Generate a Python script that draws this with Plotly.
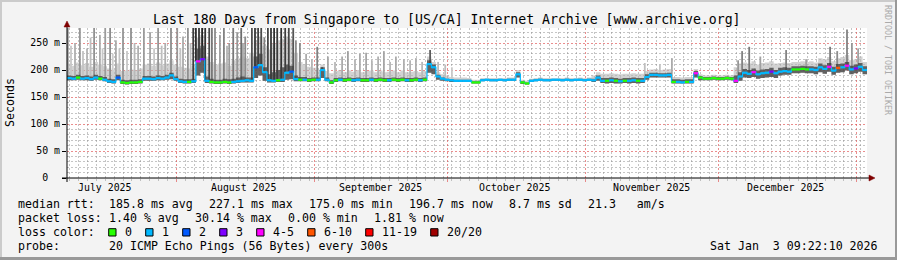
import plotly.graph_objects as go
from datetime import datetime, timedelta

# ---------------- data ----------------
END = datetime(2026, 1, 3, 9, 22, 10)
START = END - timedelta(days=180)

median_ms = [
    185, 184, 186, 184, 185, 183, 186, 184, 182, 179,
    178, 186, 177, 176, 177, 177, 178, 184, 184, 183,
    185, 184, 186, 190, 183, 179, 178, 178, 179, 216,
    220, 180, 178, 177, 177, 178, 177, 178, 179, 180,
    181, 180, 205, 209, 196, 181, 180, 181, 182, 195,
    197, 183, 182, 182, 181, 182, 182, 200, 182, 177,
    181, 182, 181, 182, 181, 182, 181, 181, 182, 181,
    182, 181, 181, 182, 181, 182, 181, 181, 182, 181,
    182, 211, 205, 188, 184, 182, 181, 180, 180, 180,
    180, 177, 177, 181, 182, 181, 181, 182, 181, 182,
    182, 192, 177, 175, 180, 181, 182, 181, 181, 182,
    182, 181, 182, 181, 182, 182, 181, 182, 181, 186,
    180, 180, 181, 180, 179, 180, 180, 181, 180, 180,
    187, 191, 191, 190, 190, 191, 178, 178, 177, 178,
    178, 194, 186, 184, 184, 185, 184, 184, 185, 184,
    180, 188, 195, 193, 196, 192, 194, 195, 197, 194,
    197, 198, 197, 201, 201, 202, 201, 201, 200, 205,
    202, 206, 199, 204, 205, 208, 201, 203, 206, 200,
]

loss_cnt = [
    1, 1, 0, 1, 1, 1, 1, 0, 1, 1,
    1, 2, 0, 0, 0, 0, 0, 1, 1, 1,
    1, 1, 1, 1, 1, 1, 1, 0, 1, 5,
    3, 1, 0, 0, 0, 0, 0, 1, 1, 1,
    1, 1, 2, 1, 1, 1, 1, 0, 1, 1,
    2, 1, 0, 1, 0, 0, 1, 1, 1, 0,
    0, 1, 0, 0, 1, 1, 0, 0, 1, 0,
    0, 0, 1, 0, 0, 0, 1, 0, 0, 1,
    0, 1, 1, 1, 1, 1, 1, 1, 1, 1,
    1, 0, 0, 1, 1, 1, 1, 1, 1, 1,
    1, 1, 0, 0, 1, 1, 1, 1, 1, 1,
    1, 1, 1, 1, 1, 1, 1, 1, 1, 1,
    1, 0, 1, 0, 1, 0, 1, 1, 0, 1,
    1, 1, 1, 1, 1, 1, 0, 1, 1, 0,
    1, 5, 0, 0, 0, 0, 0, 0, 0, 0,
    5, 1, 1, 1, 5, 1, 1, 1, 3, 1,
    1, 1, 1, 0, 0, 0, 0, 1, 1, 1,
    1, 5, 1, 10, 1, 5, 1, 3, 1, 1,
]

ping_lo = [
    181, 181, 182, 181, 181, 180, 182, 181, 179, 176,
    175, 181, 174, 173, 174, 174, 175, 180, 180, 180,
    181, 181, 182, 183, 180, 176, 175, 175, 176, 190,
    195, 176, 175, 174, 174, 175, 174, 175, 176, 177,
    177, 177, 185, 190, 180, 177, 177, 178, 178, 182,
    183, 179, 179, 179, 178, 179, 179, 185, 179, 174,
    178, 179, 178, 179, 178, 179, 178, 178, 179, 178,
    179, 178, 178, 179, 178, 179, 178, 178, 179, 178,
    179, 195, 192, 182, 180, 179, 178, 178, 178, 178,
    178, 175, 175, 179, 180, 179, 179, 180, 179, 180,
    180, 186, 174, 173, 178, 179, 180, 179, 179, 180,
    180, 179, 180, 179, 180, 180, 179, 180, 178, 180,
    176, 175, 176, 175, 175, 176, 175, 176, 175, 176,
    182, 186, 186, 186, 186, 186, 175, 175, 175, 175,
    175, 186, 181, 181, 181, 182, 181, 181, 182, 181,
    176, 180, 186, 185, 187, 184, 185, 186, 187, 185,
    190, 191, 191, 194, 194, 195, 194, 194, 192, 196,
    193, 197, 191, 195, 196, 199, 192, 194, 197, 192,
]

ping_dark = [
    190, 189, 191, 189, 190, 188, 191, 189, 187, 184,
    183, 191, 182, 181, 182, 182, 183, 189, 189, 188,
    190, 189, 191, 195, 188, 184, 183, 183, 184, 240,
    245, 188, 184, 182, 182, 184, 183, 184, 186, 188,
    186, 186, 225, 230, 205, 192, 196, 200, 205, 210,
    208, 190, 187, 187, 185, 186, 186, 205, 186, 181,
    185, 186, 185, 186, 185, 186, 185, 185, 186, 185,
    186, 185, 185, 186, 185, 186, 185, 185, 186, 185,
    186, 218, 210, 191, 186, 184, 183, 182, 182, 182,
    182, 179, 179, 183, 183, 183, 183, 183, 183, 184,
    184, 196, 179, 177, 182, 183, 184, 183, 183, 183,
    183, 183, 184, 183, 183, 184, 183, 184, 184, 190,
    185, 185, 186, 185, 184, 185, 185, 186, 185, 185,
    192, 195, 195, 194, 194, 195, 183, 183, 182, 183,
    183, 198, 189, 187, 187, 188, 187, 187, 188, 187,
    190, 196, 202, 200, 203, 199, 201, 202, 204, 200,
    204, 205, 204, 207, 207, 208, 207, 207, 206, 212,
    209, 213, 206, 211, 212, 215, 208, 210, 213, 207,
]

ping_hi = [
    212, 208, 214, 209, 213, 206, 215, 210, 207, 203,
    200, 212, 198, 199, 201, 200, 203, 210, 212, 208,
    214, 209, 212, 218, 210, 206, 204, 203, 208, 260,
    265, 225, 215, 210, 212, 214, 208, 218, 222, 225,
    222, 232, 255, 262, 245, 238, 250, 255, 258, 262,
    258, 232, 215, 210, 206, 204, 200, 210, 198, 194,
    198, 200, 196, 199, 197, 200, 196, 198, 199, 196,
    199, 196, 197, 199, 196, 199, 196, 197, 198, 196,
    198, 225, 215, 196, 192, 190, 187, 186, 186, 186,
    185, 182, 182, 185, 185, 185, 185, 185, 185, 186,
    186, 200, 182, 180, 184, 185, 186, 185, 185, 185,
    185, 185, 186, 185, 185, 186, 185, 186, 190, 196,
    193, 193, 194, 193, 192, 193, 193, 194, 193, 193,
    198, 201, 202, 200, 201, 202, 187, 187, 186, 187,
    187, 202, 192, 190, 190, 191, 190, 190, 191, 190,
    205, 212, 214, 212, 216, 210, 213, 214, 216, 212,
    213, 214, 213, 215, 215, 216, 215, 216, 214, 222,
    220, 224, 216, 222, 224, 228, 218, 220, 225, 215,
]

spike_day = [
    0.2, 0.9, 1.8, 2.9, 3.6, 4.5, 5.3, 6.1, 7.4, 8.0, 8.6, 9.7, 10.3,
    11.0, 11.8, 12.6, 13.5, 14.4, 15.2, 16.0, 17.3, 18.7, 19.6, 20.5,
    21.3, 22.1, 23.4, 24.8, 25.5, 26.1, 27.2, 27.8,
    28.4, 29.0, 29.7, 30.4, 31.1, 32.0, 32.6,
    33.3, 34.4, 35.3, 36.0, 36.5, 37.4, 38.3, 39.2, 39.6, 40.1,
    41.6, 42.3, 43.0, 43.7, 44.4,
    45.2, 45.9, 46.6, 47.3, 48.2, 49.1, 49.9, 50.9, 51.5,
    52.4, 53.8, 55.1, 56.3, 57.4, 58.7, 60.3, 61.9, 63.2, 64.8,
    65.9, 67.3, 68.6, 70.0, 71.3, 72.7, 74.0, 75.8, 77.2, 78.5,
    79.9, 81.7, 83.5, 85.1, 86.6,
    130.0, 133.4, 136.1,
    151.0, 151.9, 153.5, 156.0, 161.8, 166.3, 171.7, 173.3, 175.5, 176.6, 178.0,
]
spike_top = [
    280, 245, 250, 280, 235, 240, 260, 280, 265, 240, 280, 280, 230,
    255, 240, 280, 235, 280, 250, 245, 280, 270, 240, 280,
    245, 250, 280, 280, 240, 262, 280, 250,
    280, 280, 280, 280, 280, 280, 280,
    280, 265, 280, 245, 250, 280, 270, 280, 250, 262,
    280, 280, 280, 280, 260,
    280, 280, 280, 280, 280, 280, 280, 280, 255,
    250, 230, 220, 243, 205, 225, 215, 225, 235, 220,
    230, 232, 218, 225, 235, 215, 225, 220, 218, 222,
    215, 237, 215, 210, 205,
    213, 210, 222,
    218, 235, 243, 225, 237, 220, 243, 235, 275, 250, 240,
]
spike_gray = [
    160, 200, 175, 150, 195, 180, 190, 145, 170, 200, 155, 140, 205,
    170, 195, 150, 200, 145, 185, 175, 155, 165, 200, 150,
    190, 175, 140, 150, 195, 170, 145, 190,
    60, 45, 55, 35, 50, 70, 120,
    140, 160, 130, 180, 155, 120, 150, 110, 170, 140,
    80, 55, 65, 75, 130,
    70, 55, 45, 60, 50, 60, 70, 85, 140,
    140, 170, 180, 130, 80, 165, 185, 170, 160, 180,
    170, 165, 180, 175, 165, 185, 170, 175, 180, 175,
    185, 90, 185, 190, 200,
    190, 195, 170,
    150, 130, 120, 160, 130, 160, 120, 140, 130, 150, 160,
]

loss_classes = [0, 1, 2, 3, 5, 10, 19, 20]
loss_labels = ["0", "1", "2", "3", "4-5", "6-10", "11-19", "20/20"]
loss_colors = ["#26ff00", "#00b8ff", "#0059ff", "#7e00ff",
               "#ff00ff", "#ff5500", "#ff0000", "#a00000"]

month_labels = ["July 2025", "August 2025", "September 2025",
                "October 2025", "November 2025", "December 2025"]
month_first = [datetime(2025, 7, 1), datetime(2025, 8, 1), datetime(2025, 9, 1),
               datetime(2025, 10, 1), datetime(2025, 11, 1), datetime(2025, 12, 1)]
month_lines = [datetime(2025, 8, 1), datetime(2025, 9, 1), datetime(2025, 10, 1),
               datetime(2025, 11, 1), datetime(2025, 12, 1), datetime(2026, 1, 1)]

y_ticks = [0, 50, 100, 150, 200, 250]
y_ticktext = ["0  ", "50 m", "100 m", "150 m", "200 m", "250 m"]

title_text = "Last 180 Days from Singapore to [US/CA] Internet Archive [www.archive.org]"
stats_rtt = [("median rtt:", 16), ("185.8 ms avg", 107.3), ("227.1 ms max", 207.3),
             ("175.0 ms min", 307.3), ("196.7 ms now", 407.3), ("8.7 ms sd", 507.3),
             ("21.3   am/s", 586.0)]
stats_loss = [("packet loss:", 16), ("1.40 % avg", 107.3), ("30.14 % max", 193.3),
              ("0.00 % min", 286.0), ("1.81 % now", 372.0)]
probe_text = "20 ICMP Echo Pings (56 Bytes) every 300s"
stamp_text = "Sat Jan  3 09:22:10 2026"

# ---------------- geometry helpers ----------------
W, H = 897, 260
L, R, T, B = 67, 867, 28, 178
YMAX = 277.8
FONT = "DejaVu Sans Mono"


def xp(px):
    return (px - L) / (R - L)


def yp(py):
    return (B - py) / (B - T)


def nb(s):
    return s.replace(" ", "\u00a0")


n = len(median_ms)
t = [START + timedelta(days=i) for i in range(n + 1)]

fig = go.Figure()


def band(top, color):
    fig.add_trace(go.Scatter(x=t, y=ping_lo + [ping_lo[-1]], mode="lines",
                             line=dict(width=0, shape="hv"), hoverinfo="skip"))
    fig.add_trace(go.Scatter(x=t, y=top + [top[-1]], mode="lines",
                             line=dict(width=0, shape="hv"), fill="tonexty",
                             fillcolor=color, hoverinfo="skip"))


band(ping_hi, "rgba(180,180,180,0.6)")

# spikes (vertical smoke lines), grouped by gray level
groups = {}
for d, top, g in zip(spike_day, spike_top, spike_gray):
    groups.setdefault(g, []).append((d, top))
for g in sorted(groups, reverse=True):
    xs, ys = [], []
    for d, top in groups[g]:
        tx = START + timedelta(days=d)
        base = median_ms[min(int(d), n - 1)]
        xs += [tx, tx, None]
        ys += [base, top, None]
    fig.add_trace(go.Scatter(x=xs, y=ys, mode="lines",
                             line=dict(width=1.8, color=f"rgb({g},{g},{g})"),
                             hoverinfo="skip"))

band(ping_dark, "rgba(60,60,60,0.75)")

# median line: connector then coloured segments by loss
fig.add_trace(go.Scatter(x=t, y=median_ms + [median_ms[-1]], mode="lines",
                         line=dict(width=1.2, shape="hv", color="#00b8ff"),
                         hoverinfo="skip"))
for cls, col in zip(loss_classes, loss_colors):
    xs, ys = [], []
    for i in range(n):
        if loss_cnt[i] == cls:
            xs += [t[i], t[i + 1], None]
            ys += [median_ms[i], median_ms[i], None]
    if xs:
        fig.add_trace(go.Scatter(x=xs, y=ys, mode="lines",
                                 line=dict(width=2.2, color=col), hoverinfo="skip"))

# minor vertical grid every 2 days from first midnight (skip month lines)
first_mid = datetime(START.year, START.month, START.day) + timedelta(days=1)
minor_x = []
d = first_mid
while d < END:
    if d not in month_lines:
        minor_x.append(d)
    d += timedelta(days=2)
minor_y = [v for v in range(10, 280, 10) if v % 50]

MGRID = "rgba(222,80,80,0.65)"
GRID = "rgba(140,140,140,0.5)"
DASH = "2px,2px"

fig.update_layout(
    width=W, height=H, autosize=False,
    margin=dict(l=L, r=W - R, t=T, b=H - B, pad=0),
    paper_bgcolor="#f3f3f3", plot_bgcolor="#ffffff",
    showlegend=False,
    xaxis=dict(type="date", range=[START, END], tickmode="array",
               tickvals=month_lines, ticktext=[""] * len(month_lines),
               showgrid=True, gridcolor=MGRID, griddash=DASH, gridwidth=1,
               ticks="outside", ticklen=3, tickcolor=MGRID,
               zeroline=False, showline=False, fixedrange=True,
               minor=dict(tickvals=minor_x, showgrid=True, gridcolor=GRID,
                          griddash=DASH, gridwidth=1, ticks="outside", ticklen=2,
                          tickcolor=GRID)),
    yaxis=dict(range=[0, YMAX], tickmode="array", tickvals=y_ticks,
               ticktext=[nb(s) for s in y_ticktext], showgrid=True, gridcolor=MGRID,
               griddash=DASH, gridwidth=1, ticks="outside", ticklen=4,
               tickcolor="#000000",
               tickfont=dict(family=FONT, size=9.9, color="#000000"),
               zeroline=False, showline=False, fixedrange=True,
               minor=dict(tickvals=minor_y, showgrid=True,
                          gridcolor=GRID, griddash=DASH, gridwidth=1)),
)

shapes = []
# frame shading
shapes.append(dict(type="rect", xref="paper", yref="paper", x0=xp(0), x1=xp(W),
                   y0=yp(0), y1=yp(2), fillcolor="#cbcbcb", line=dict(width=0)))
shapes.append(dict(type="rect", xref="paper", yref="paper", x0=xp(0), x1=xp(2),
                   y0=yp(0), y1=yp(H), fillcolor="#cbcbcb", line=dict(width=0)))
shapes.append(dict(type="rect", xref="paper", yref="paper", x0=xp(0), x1=xp(W),
                   y0=yp(H - 3), y1=yp(H), fillcolor="#999999", line=dict(width=0)))
shapes.append(dict(type="rect", xref="paper", yref="paper", x0=xp(W - 2), x1=xp(W),
                   y0=yp(0), y1=yp(H), fillcolor="#999999", line=dict(width=0)))
# axes
shapes.append(dict(type="line", xref="paper", yref="paper", x0=xp(62), x1=xp(870),
                   y0=0, y1=0, line=dict(color="#000000", width=1)))
shapes.append(dict(type="line", xref="paper", yref="paper", x0=0, x1=0,
                   y0=yp(182), y1=yp(25), line=dict(color="#000000", width=1)))
shapes.append(dict(type="path", xref="paper", yref="paper", xsizemode="pixel",
                   ysizemode="pixel", xanchor=xp(869), yanchor=0,
                   path="M 0 -3 L 6 0 L 0 3 Z", fillcolor="#7f0000",
                   line=dict(color="#7f0000", width=0.5)))
shapes.append(dict(type="path", xref="paper", yref="paper", xsizemode="pixel",
                   ysizemode="pixel", xanchor=0, yanchor=yp(27),
                   path="M -3 0 L 3 0 L 0 6 Z", fillcolor="#7f0000",
                   line=dict(color="#7f0000", width=0.5)))
# loss colour boxes
bx = 108.7
box_pos = []
for lab, col in zip(loss_labels, loss_colors):
    shapes.append(dict(type="rect", xref="paper", yref="paper", x0=xp(bx), x1=xp(bx + 7.3),
                       y0=yp(236), y1=yp(228.7), fillcolor=col,
                       line=dict(color="#000000", width=1)))
    box_pos.append((lab, bx + 14.6))
    bx = bx + 14.6 + len(lab) * 7.0 + 15.4
fig.update_layout(shapes=shapes)

ann = []


def txt(s, x, y, size=11.6, anchor="left", color="#000000", angle=0):
    ann.append(dict(text=nb(s), xref="paper", yref="paper", x=xp(x), y=yp(y),
                    xanchor=anchor, yanchor="middle", showarrow=False,
                    textangle=angle,
                    font=dict(family=FONT, size=size, color=color)))


txt(title_text, 447, 19.5, size=13.2, anchor="center")
txt("Seconds", 10, 103, anchor="center", angle=-90)
txt("RRDTOOL / TOBI OETIKER", 888, 60, size=8.3, anchor="center",
    color="#aaaaaa", angle=90)
for s, x in stats_rtt:
    txt(s, x, 204.3)
for s, x in stats_loss:
    txt(s, x, 218.3)
txt("loss color:", 16, 232.3)
for lab, x in box_pos:
    txt(lab, x, 232.3)
txt("probe:", 16, 246.3)
txt(probe_text, 107.3, 246.3)
txt(stamp_text, 880, 246.3, anchor="right")

for lab, mf in zip(month_labels, month_first):
    ann.append(dict(text=nb(lab), xref="x", yref="paper", x=mf + timedelta(days=15),
                    y=yp(187.7), xanchor="center", yanchor="middle", showarrow=False,
                    font=dict(family=FONT, size=9.9, color="#000000")))

fig.update_layout(annotations=ann)

fig.write_html("out.html")
